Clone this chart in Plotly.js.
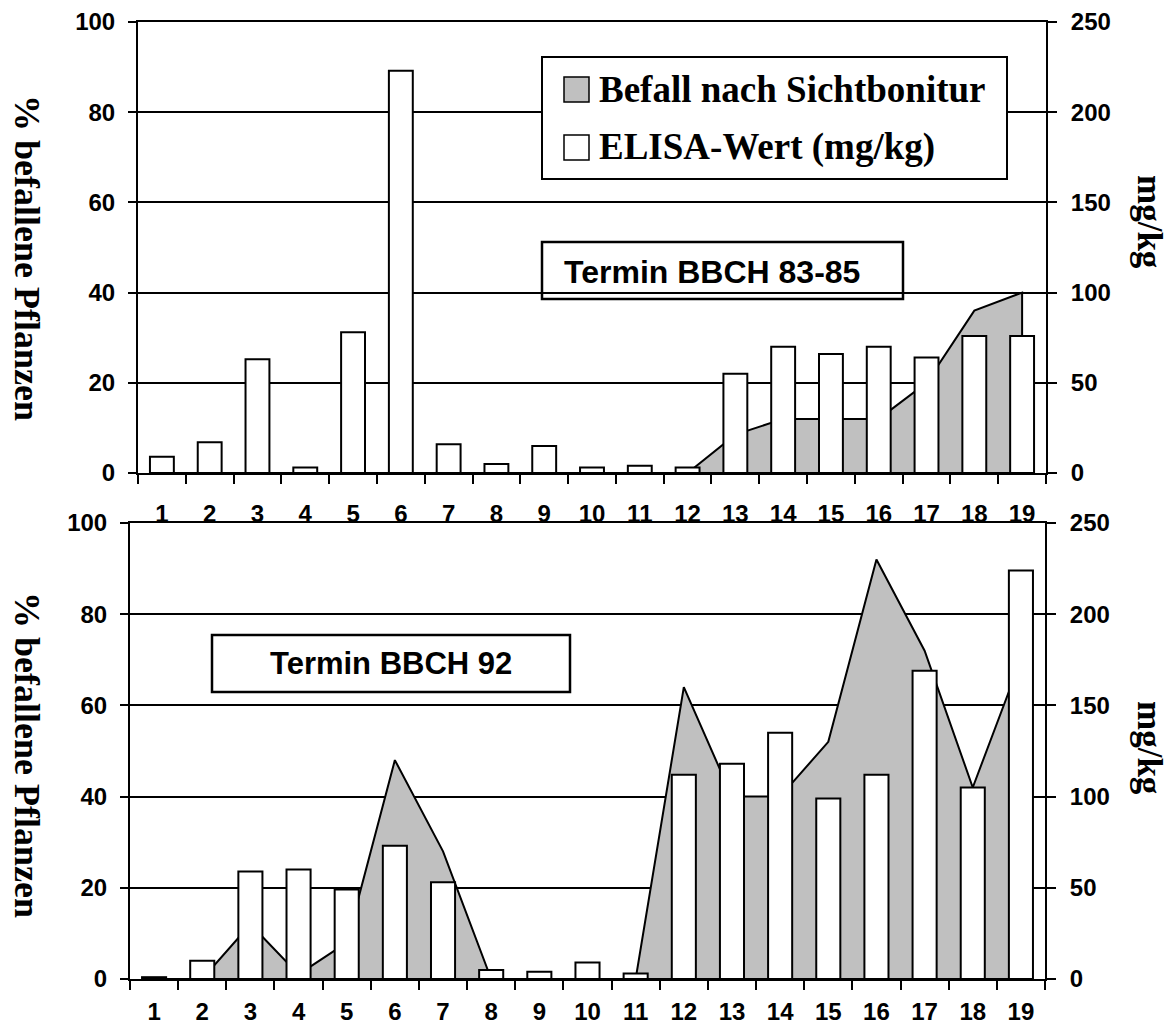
<!DOCTYPE html>
<html>
<head>
<meta charset="utf-8">
<script src="https://cdn.plot.ly/plotly-3.0.1.min.js"></script>
<style>html,body{margin:0;padding:0;background:#fff;}#chart{width:1169px;height:1027px;}</style>
</head>
<body>
<div id="chart"></div>
<script>
// ---- data ----
var categories = ['1','2','3','4','5','6','7','8','9','10','11','12','13','14','15','16','17','18','19'];
// Termin BBCH 83-85 (top)
var befallTop = [0,0,0,0,0,0,0,0,0,0,0,0,8.5,12,12,12,20,36,40];          // % befallene Pflanzen
var elisaTop = [9,17,63,3,78,223,16,5,15,3,4,3,55,70,66,70,64,76,76];      // mg/kg
// Termin BBCH 92 (bottom)
var befallBottom = [0,0,12,1,8,48,28,0,0,0,0,64,40,40,52,92,72,42,70];     // %
var elisaBottom = [1,10,59,60,49,73,53,5,4,9,3,112,118,135,99,112,169,105,224]; // mg/kg
var leftTicks = [0,20,40,60,80,100];
var rightTicks = [0,50,100,150,200,250];
var legendNames = ['Befall nach Sichtbonitur','ELISA-Wert (mg/kg)'];
var panelLabels = ['Termin BBCH 83-85','Termin BBCH 92'];
var leftTitle = '% befallene Pflanzen';
var rightTitle = 'mg/kg';

// ---- helpers ----
var W = 1169, H = 1027;
function px(x){return x/W;}
function py(y){return 1 - y/H;}
var sans = 'Liberation Sans, Arial, sans-serif';
var serif = 'Liberation Serif, Times New Roman, serif';
var tickFont = {family: sans, size: 24, color: '#000', weight: 'bold'};
var grey = '#c0c0c0';

function areaTrace(vals, xa, ya){
  var n = categories.length;
  return {
    type: 'scatter', mode: 'lines',
    x: categories.concat([categories[n-1], categories[0]]),
    y: vals.concat([0, 0]),
    fill: 'toself', fillcolor: grey,
    line: {color: '#000', width: 2},
    xaxis: xa, yaxis: ya, hoverinfo: 'skip', name: legendNames[0]
  };
}
function barTrace(vals, xa, ya){
  return {
    type: 'bar', x: categories, y: vals, width: 0.5,
    marker: {color: '#fff', line: {color: '#000', width: 2}},
    xaxis: xa, yaxis: ya, name: legendNames[1]
  };
}

var data = [
  areaTrace(befallTop, 'x', 'y'),
  barTrace(elisaTop, 'x', 'y2'),
  areaTrace(befallBottom, 'x2', 'y3'),
  barTrace(elisaBottom, 'x2', 'y4')
];

function xAxis(domain, anchor, standoff){
  return {
    type: 'category', domain: domain, anchor: anchor, range: [-0.5, 18.5],
    showline: true, linecolor: '#000', linewidth: 2, mirror: true,
    ticks: 'outside', tickson: 'boundaries', ticklen: 9, tickwidth: 2, tickcolor: '#000',
    showgrid: false, zeroline: false, tickfont: tickFont, ticklabelstandoff: standoff,
    fixedrange: true
  };
}
function yLeft(domain, anchor){
  return {
    domain: domain, anchor: anchor, range: [0, 100], tickmode: 'array', tickvals: leftTicks,
    showline: true, linecolor: '#000', linewidth: 2,
    ticks: 'outside', ticklen: 8, tickwidth: 2, tickcolor: '#000',
    showgrid: true, gridcolor: '#000', gridwidth: 2, zeroline: false,
    tickfont: tickFont, ticklabelstandoff: 8, fixedrange: true
  };
}
function yRight(overlay, anchor){
  return {
    overlaying: overlay, side: 'right', anchor: anchor, range: [0, 250],
    tickmode: 'array', tickvals: rightTicks,
    showline: true, linecolor: '#000', linewidth: 2,
    ticks: 'outside', ticklen: 9, tickwidth: 2, tickcolor: '#000',
    showgrid: false, zeroline: false, tickfont: tickFont, ticklabelstandoff: 9, fixedrange: true
  };
}

var shapes = [
  // legend box
  {type:'rect', xref:'paper', yref:'paper', x0:px(542), x1:px(1007), y0:py(179), y1:py(57),
   fillcolor:'#fff', line:{color:'#000', width:2}, layer:'above'},
  {type:'rect', xref:'paper', yref:'paper', x0:px(564), x1:px(589), y0:py(102), y1:py(77),
   fillcolor:grey, line:{color:'#000', width:1.5}, layer:'above'},
  {type:'rect', xref:'paper', yref:'paper', x0:px(564), x1:px(589), y0:py(160), y1:py(135),
   fillcolor:'#fff', line:{color:'#000', width:1.5}, layer:'above'},
  // panel label boxes
  {type:'rect', xref:'paper', yref:'paper', x0:px(542), x1:px(903), y0:py(299), y1:py(242),
   fillcolor:'rgba(0,0,0,0)', line:{color:'#000', width:2.5}, layer:'above'},
  {type:'rect', xref:'paper', yref:'paper', x0:px(212), x1:px(570), y0:py(692), y1:py(635),
   fillcolor:'#fff', line:{color:'#000', width:2.5}, layer:'above'}
];

var annotations = [
  {xref:'paper', yref:'paper', x:px(597), y:py(89), xanchor:'left', yanchor:'middle', showarrow:false,
   text:'<b>'+legendNames[0]+'</b>', font:{family:serif, size:37, color:'#000'}},
  {xref:'paper', yref:'paper', x:px(597), y:py(147), xanchor:'left', yanchor:'middle', showarrow:false,
   text:'<b>'+legendNames[1]+'</b>', font:{family:serif, size:37, color:'#000'}},
  {xref:'paper', yref:'paper', x:px(712), y:py(272), xanchor:'center', yanchor:'middle', showarrow:false,
   text:'<b>'+panelLabels[0]+'</b>', font:{family:sans, size:32, color:'#000'}},
  {xref:'paper', yref:'paper', x:px(391), y:py(663), xanchor:'center', yanchor:'middle', showarrow:false,
   text:'<b>'+panelLabels[1]+'</b>', font:{family:sans, size:31, color:'#000'}},
  {xref:'paper', yref:'paper', x:px(27), y:py(258), xanchor:'center', yanchor:'middle', showarrow:false,
   textangle:90, text:'<b>'+leftTitle+'</b>', font:{family:serif, size:36, color:'#000'}},
  {xref:'paper', yref:'paper', x:px(27), y:py(755), xanchor:'center', yanchor:'middle', showarrow:false,
   textangle:90, text:'<b>'+leftTitle+'</b>', font:{family:serif, size:36, color:'#000'}},
  {xref:'paper', yref:'paper', x:px(1150), y:py(222), xanchor:'center', yanchor:'middle', showarrow:false,
   textangle:90, text:'<b>'+rightTitle+'</b>', font:{family:serif, size:35, color:'#000'}},
  {xref:'paper', yref:'paper', x:px(1150), y:py(748), xanchor:'center', yanchor:'middle', showarrow:false,
   textangle:90, text:'<b>'+rightTitle+'</b>', font:{family:serif, size:35, color:'#000'}}
];

var layout = {
  width: W, height: H,
  margin: {l:0, r:0, t:0, b:0, pad:0},
  paper_bgcolor: '#fff', plot_bgcolor: 'rgba(0,0,0,0)',
  showlegend: false,
  font: {family: sans, color: '#000'},
  xaxis: xAxis([px(138), px(1046)], 'y', 18),
  yaxis: yLeft([py(473), py(22)], 'x'),
  yaxis2: yRight('y', 'x'),
  xaxis2: xAxis([px(130), px(1045)], 'y3', 10),
  yaxis3: yLeft([py(979), py(523)], 'x2'),
  yaxis4: yRight('y3', 'x2'),
  shapes: shapes,
  annotations: annotations
};

Plotly.newPlot('chart', data, layout, {displayModeBar: false, staticPlot: true});
</script>
</body>
</html>
